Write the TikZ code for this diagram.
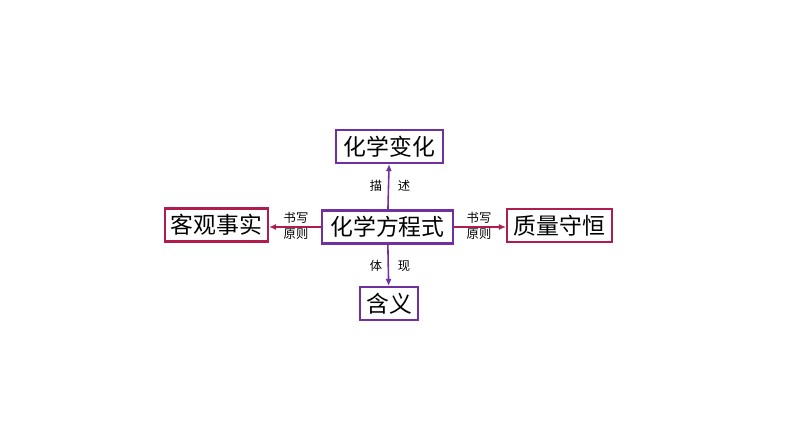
\documentclass[tikz,border=0pt]{standalone}
\usepackage{fontspec}
\newfontfamily\cjk{Noto Sans CJK SC}
\usetikzlibrary{arrows.meta}
\definecolor{boxpurple}{RGB}{112,48,160}
\definecolor{boxred}{RGB}{176,28,76}
\tikzset{
  concept/.style={draw, line width=1.2pt, inner sep=0pt, minimum height=0.66cm,
    font=\cjk\fontsize{13pt}{15pt}\selectfont},
  tag/.style={font=\cjk\fontsize{7pt}{9pt}\selectfont, align=center},
  link/.style={line width=0.9pt, -{Latex[length=4pt,width=3.5pt]}}
}
\begin{document}
\begin{tikzpicture}[x=0.02cm,y=-0.02cm]
    \useasboundingbox (0,0) rectangle (794,447);

    % Boxes
    \node[concept, boxpurple, text=black, minimum width=2.62cm] (eq) at (387.5,227) {化学方程式};
    \node[concept, boxpurple, text=black, minimum width=2.14cm] (change) at (389.5,146.5) {化学变化};
    \node[concept, boxpurple, text=black, minimum width=1.16cm] (meaning) at (389,303.5) {含义};
    \node[concept, boxred, text=black, minimum width=2.06cm] (fact) at (216.5,225) {客观事实};
    \node[concept, boxred, text=black, minimum width=2.10cm] (mass) at (559.5,225.5) {质量守恒};

    % Arrows
    \draw[link, boxpurple] (eq) -- (change);
    \draw[link, boxpurple] (eq) -- (meaning);
    \draw[link, boxred] (eq.west) -- (fact.east |- eq.west);
    \draw[link, boxred] (eq.east) -- (mass.west |- eq.east);

    % Labels
    \node[tag] at (376,186) {描};
    \node[tag] at (404,186) {述};
    \node[tag] at (376,266) {体};
    \node[tag] at (404,266) {现};
    \node[tag] (leftnote) at (296,226) {书写\\原则};
    \node[tag] (rightnote) at (479,226) {书写\\原则};
\end{tikzpicture}
\end{document}
